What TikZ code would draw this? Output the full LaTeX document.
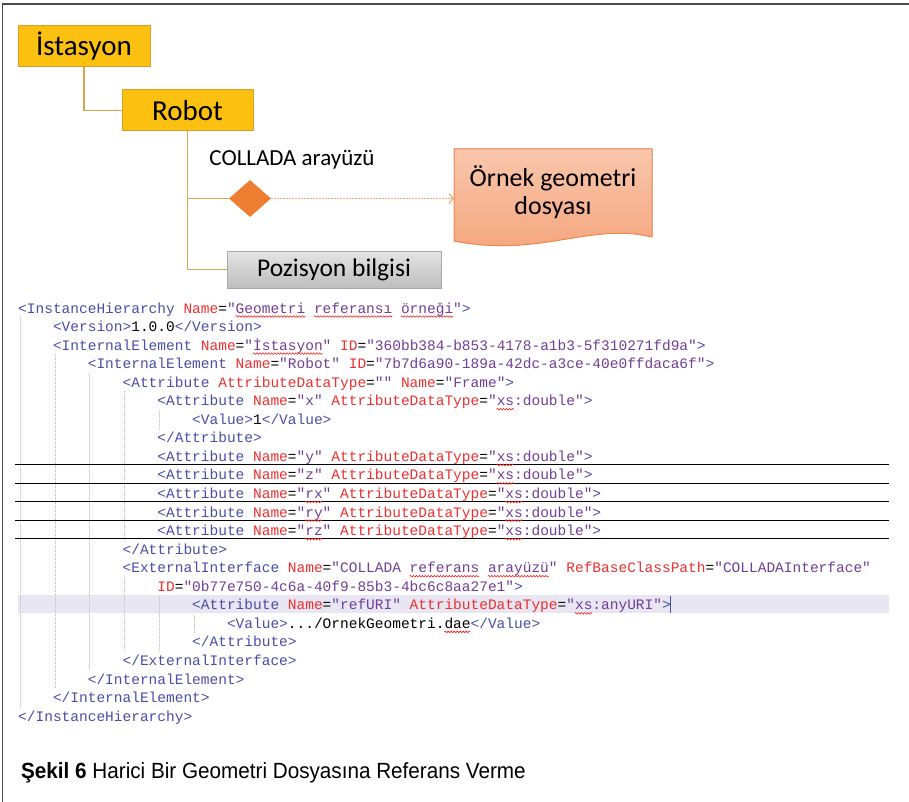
\documentclass[tikz,border=0pt]{standalone}
\usepackage{fontspec}
\usetikzlibrary{shapes.geometric,arrows.meta,decorations.pathmorphing}
\newfontfamily\boxfont{Carlito}
\newfontfamily\codefont{Liberation Mono}
\newfontfamily\capfont[FakeStretch=0.94]{Liberation Sans}
\definecolor{gold}{RGB}{252,192,17}
\definecolor{golddark}{RGB}{214,160,42}
\definecolor{branchgold}{RGB}{212,168,80}
\definecolor{portorange}{RGB}{237,125,49}
\definecolor{linkorange}{RGB}{244,168,118}
\definecolor{doctop}{RGB}{249,198,172}
\definecolor{docbot}{RGB}{244,164,124}
\definecolor{docline}{RGB}{240,136,76}
\definecolor{graytop}{RGB}{228,228,228}
\definecolor{graybot}{RGB}{190,190,190}
\definecolor{grayline}{RGB}{168,168,168}
\definecolor{xmltag}{RGB}{72,78,165}
\definecolor{xmlatt}{RGB}{236,48,48}
\definecolor{xmlval}{RGB}{112,62,150}
\definecolor{curline}{RGB}{232,230,242}
\newcommand\xt[1]{\textcolor{xmltag}{#1}}
\newcommand\xa[1]{\textcolor{xmlatt}{#1}}
\newcommand\xv[1]{\textcolor{xmlval}{#1}}
\newcommand\codeln[3]{\node[code] (ln#1) at ({18+34.8*#2},{313+18.55*#1}) {#3};}
\newcommand\wavy[3]{\draw[spell] ({18+8.7*#2},{316.5+18.55*#1}) -- ({18+8.7*(#3+1)},{316.5+18.55*#1});}
\newcommand\guide[3]{\draw[guideline] ({20+34.8*#1},{308+18.55*(#2-0.5)}) -- ({20+34.8*#1},{308+18.55*(#3+0.5)});}
\begin{document}
\begin{tikzpicture}[x=1pt,y=-1pt,
        box/.style={draw=golddark,fill=gold,line width=1pt,inner sep=0pt,font=\boxfont\fontsize{29}{34}\selectfont},
        graybox/.style={draw=grayline,top color=graytop,bottom color=graybot,line width=1pt,inner sep=0pt,minimum width=214pt,minimum height=37pt,font=\boxfont\fontsize{25.5}{30}\selectfont},
        port/.style={diamond,fill=portorange,inner sep=0pt,minimum width=42pt,minimum height=37pt},
        branch/.style={draw=branchgold,line width=1.6pt},
        link/.style={draw=linkorange,line width=1.2pt,dash pattern=on 2pt off 1pt,-{Straight Barb[length=4pt,width=10pt]}},
        code/.style={anchor=base west,inner sep=0pt,font=\codefont\fontsize{14.5}{17}\selectfont},
        spell/.style={draw=red!90,line width=0.6pt,decorate,decoration={snake,amplitude=0.8pt,segment length=3pt}},
        guideline/.style={draw=black!22,line width=0.6pt,densely dotted},
        rowrule/.style={draw=black,line width=1.1pt}]
        \useasboundingbox (0,0) rectangle (909,802);
        \draw[black!70,line width=1.6pt] (2.5,802) -- (2.5,4) -- (909,4);

        \node[box,minimum width=132pt,minimum height=41pt] (ist) at (84,46.5) {İstasyon};
        \node[box,minimum width=131pt,minimum height=41pt] (rob) at (187.5,110.5) {Robot};
        \node[port] (dia) at (250,198.5) {};
        \node[font=\boxfont\fontsize{23}{27}\selectfont] (lbl) at (292,160) {COLLADA arayüzü};
        \node[graybox] (poz) at (334,269.5) {Pozisyon bilgisi};
        \filldraw[draw=docline,top color=doctop,bottom color=docbot,line width=1pt] (454,149) -- (652,149) -- (652,237) .. controls (590,222) and (540,258) .. (454,241) -- cycle;
        \node[align=center,minimum width=198pt,inner sep=0pt,font=\boxfont\fontsize{26}{28}\selectfont] (doc) at (553,192) {Örnek geometri\\dosyası};
        \draw[branch] (ist.south) |- (rob.west);
        \draw[branch] (rob.south) |- (dia.west);
        \draw[branch] (rob.south) |- (poz.west);
        \draw[link] (dia.east) -- (dia -| doc.west);

        \fill[curline] (18,595) rectangle (889,613);
        \guide{0}{1}{21}
        \guide{1}{3}{20}
        \guide{2}{4}{19}
        \guide{3}{5}{12}
        \guide{3}{15}{18}
        \guide{4}{6}{6}
        \guide{4}{16}{18}
        \guide{5}{17}{17}
        \foreach \i in {8,...,12}
            \draw[rowrule] (15,{307+18.55*(\i+0.5)}) -- (889,{307+18.55*(\i+0.5)});

        \codeln{0}{0}{\xt{<InstanceHierarchy} \xa{Name}=\xv{"Geometri referansı örneği"}\xt{>}}
        \codeln{1}{1}{\xt{<Version>}1.0.0\xt{</Version>}}
        \codeln{2}{1}{\xt{<InternalElement} \xa{Name}=\xv{"İstasyon"} \xa{ID}=\xv{"360bb384-b853-4178-a1b3-5f310271fd9a"}\xt{>}}
        \codeln{3}{2}{\xt{<InternalElement} \xa{Name}=\xv{"Robot"} \xa{ID}=\xv{"7b7d6a90-189a-42dc-a3ce-40e0ffdaca6f"}\xt{>}}
        \codeln{4}{3}{\xt{<Attribute} \xa{AttributeDataType}=\xv{""} \xa{Name}=\xv{"Frame"}\xt{>}}
        \codeln{5}{4}{\xt{<Attribute} \xa{Name}=\xv{"x"} \xa{AttributeDataType}=\xv{"xs:double"}\xt{>}}
        \codeln{6}{5}{\xt{<Value>}1\xt{</Value>}}
        \codeln{7}{4}{\xt{</Attribute>}}
        \codeln{8}{4}{\xt{<Attribute} \xa{Name}=\xv{"y"} \xa{AttributeDataType}=\xv{"xs:double"}\xt{>}}
        \codeln{9}{4}{\xt{<Attribute} \xa{Name}=\xv{"z"} \xa{AttributeDataType}=\xv{"xs:double"}\xt{>}}
        \codeln{10}{4}{\xt{<Attribute} \xa{Name}=\xv{"rx"} \xa{AttributeDataType}=\xv{"xs:double"}\xt{>}}
        \codeln{11}{4}{\xt{<Attribute} \xa{Name}=\xv{"ry"} \xa{AttributeDataType}=\xv{"xs:double"}\xt{>}}
        \codeln{12}{4}{\xt{<Attribute} \xa{Name}=\xv{"rz"} \xa{AttributeDataType}=\xv{"xs:double"}\xt{>}}
        \codeln{13}{3}{\xt{</Attribute>}}
        \codeln{14}{3}{\xt{<ExternalInterface} \xa{Name}=\xv{"COLLADA referans arayüzü"} \xa{RefBaseClassPath}=\xv{"COLLADAInterface"}}
        \codeln{15}{4}{\xa{ID}=\xv{"0b77e750-4c6a-40f9-85b3-4bc6c8aa27e1"}\xt{>}}
        \codeln{16}{5}{\xt{<Attribute} \xa{Name}=\xv{"refURI"} \xa{AttributeDataType}=\xv{"xs:anyURI"}\xt{>}}
        \codeln{17}{6}{\xt{<Value>}.../OrnekGeometri.dae\xt{</Value>}}
        \codeln{18}{5}{\xt{</Attribute>}}
        \codeln{19}{3}{\xt{</ExternalInterface>}}
        \codeln{20}{2}{\xt{</InternalElement>}}
        \codeln{21}{1}{\xt{</InternalElement>}}
        \codeln{22}{0}{\xt{</InstanceHierarchy>}}
        \draw[xmltag,line width=1pt] (ln16.east |- 0,596) -- (ln16.east |- 0,613);

        \wavy{0}{25}{32} \wavy{0}{34}{42} \wavy{0}{44}{49}
        \wavy{2}{27}{34}
        \wavy{5}{55}{56} \wavy{8}{55}{56} \wavy{9}{55}{56}
        \wavy{10}{33}{34} \wavy{10}{56}{57}
        \wavy{11}{33}{34} \wavy{11}{56}{57}
        \wavy{12}{33}{34} \wavy{12}{56}{57}
        \wavy{14}{45}{52} \wavy{14}{54}{60}
        \wavy{16}{64}{65}
        \wavy{17}{49}{51}

        \node[anchor=base west,inner sep=0pt,font=\capfont\fontsize{22}{26}\selectfont] (cap) at (21,778) {\textbf{Şekil 6} Harici Bir Geometri Dosyasına Referans Verme};
    \end{tikzpicture}
\end{document}
